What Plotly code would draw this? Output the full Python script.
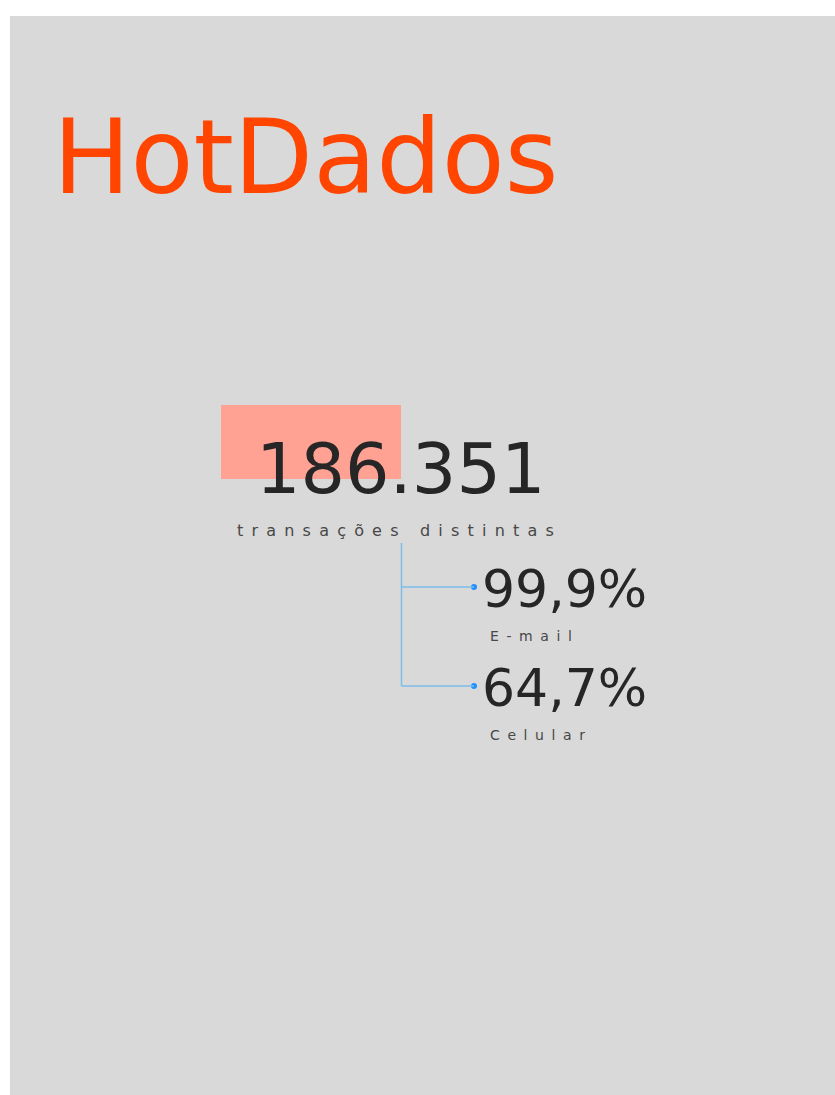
import plotly.graph_objects as go

# ---- data ----
title_text = "HotDados"
total_value = "186.351"
total_label = "transações distintas"
metric_values = ["99,9%", "64,7%"]
metric_labels = ["E-mail", "Celular"]

# ---- layout constants (pixels) ----
W, H = 835, 1095
FONT = "DejaVu Sans"
DARK = "#262626"
GREY = "#474747"
LINE = "#7dbde9"
DOT = "#1e90ff"

def spaced(t, px):
    return f'<span style="letter-spacing:{px}px">{t}</span>'

fig = go.Figure()

shapes = [
    dict(type="rect", xref="x", yref="y", x0=10, x1=W, y0=16, y1=H,
         fillcolor="#d9d9d9", line=dict(width=0), layer="below"),
    dict(type="rect", xref="x", yref="y", x0=221, x1=401, y0=405, y1=479,
         fillcolor="#ffa193", line=dict(width=0), layer="below"),
]

metric_y = [587, 686]
branch_x0, branch_x1 = 401.5, 474
shapes.append(dict(type="line", xref="x", yref="y", x0=branch_x0, x1=branch_x0,
                   y0=543, y1=metric_y[-1], line=dict(color=LINE, width=1.5)))
for y in metric_y:
    shapes.append(dict(type="line", xref="x", yref="y", x0=branch_x0, x1=branch_x1,
                       y0=y, y1=y, line=dict(color=LINE, width=1.5)))

fig.add_trace(go.Scatter(x=[branch_x1] * len(metric_y), y=metric_y, mode="markers",
                         marker=dict(color=DOT, size=6), hoverinfo="skip",
                         showlegend=False))

ann = []
def A(text, x, y, size, color, weight="normal"):
    ann.append(dict(text=text, x=x, y=y, xref="x", yref="y", xanchor="left",
                    yanchor="middle", showarrow=False, borderpad=0, borderwidth=0,
                    font=dict(family=FONT, size=size, color=color, weight=weight)))

A(title_text, 53, 157, 103, "#ff4500")
A(total_value, 256, 469, 70, DARK)
A(spaced(total_label, 8.2), 237, 530, 16, GREY)
for i, (v, lab) in enumerate(zip(metric_values, metric_labels)):
    yb = 609 + i * 99
    A(v, 482, yb - 20, 52, DARK)
    A(spaced(lab, 7.6), 490, yb + 27, 14, GREY)

fig.update_layout(
    width=W, height=H, margin=dict(l=0, r=0, t=0, b=0),
    paper_bgcolor="white", plot_bgcolor="white",
    xaxis=dict(range=[0, W], visible=False, fixedrange=True),
    yaxis=dict(range=[H, 0], visible=False, fixedrange=True),
    shapes=shapes, annotations=ann, showlegend=False,
)
fig.write_html(
    "out.html",
    config={"displayModeBar": False},
    post_script="document.body.style.margin='0';document.body.style.overflow='hidden';",
)
